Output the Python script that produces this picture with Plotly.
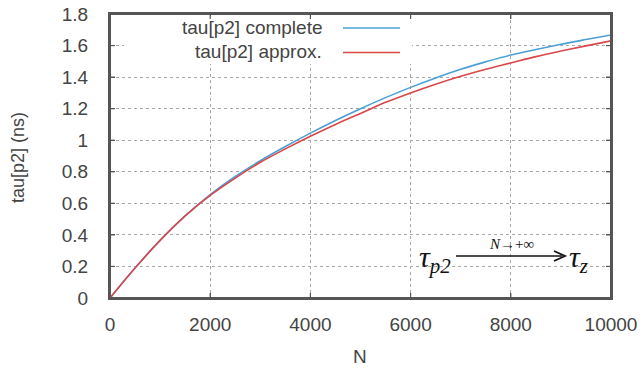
import plotly.graph_objects as go

# ---- data ----
N = [0, 500, 1000, 1500, 2000, 2500, 3000, 3500, 4000, 4500, 5000,
     5500, 6000, 6500, 7000, 7500, 8000, 8500, 9000, 9500, 10000]
tau_complete = [0, 0.19, 0.365, 0.52, 0.655, 0.77, 0.87, 0.96, 1.045, 1.125, 1.20,
                1.27, 1.335, 1.395, 1.45, 1.497, 1.54, 1.575, 1.608, 1.638, 1.667]
tau_approx = [0, 0.19, 0.365, 0.52, 0.65, 0.76, 0.86, 0.945, 1.025, 1.10, 1.17,
              1.24, 1.30, 1.355, 1.405, 1.45, 1.49, 1.53, 1.565, 1.598, 1.63]
series_names = ["tau[p2] complete", "tau[p2] approx."]
x_ticks = [0, 2000, 4000, 6000, 8000, 10000]
x_ticktext = ["0", "2000", "4000", "6000", "8000", "10000"]
y_ticks = [0, 0.2, 0.4, 0.6, 0.8, 1, 1.2, 1.4, 1.6, 1.8]

BLUE = "#4b9fd5"
RED = "#d9474a"
FRAME = "#555555"
TXT = "#444444"
FONT = "Liberation Sans"

W, H = 641, 372
L, R, T, B = 110, 30, 14, 74
PW, PH = W - L - R, H - T - B


def px(x):
    return (x - L) / PW


def py(y):
    return (H - B - y) / PH


fig = go.Figure()
fig.add_trace(go.Scatter(x=N, y=tau_complete, mode="lines", name=series_names[0],
                         line=dict(color=BLUE, width=1.6), line_shape="spline"))
fig.add_trace(go.Scatter(x=N, y=tau_approx, mode="lines", name=series_names[1],
                         line=dict(color=RED, width=1.6), line_shape="spline"))

axis_common = dict(showline=True, linecolor=FRAME, linewidth=2, mirror="allticks",
                   ticks="inside", ticklen=5, tickcolor=FRAME, tickwidth=1,
                   showgrid=True, gridcolor="#a8a8a8", griddash="dot", gridwidth=1,
                   zeroline=False, automargin=False,
                   tickfont=dict(family=FONT, size=19, color=TXT))

fig.update_xaxes(range=[0, 10000], tickvals=x_ticks, ticktext=x_ticktext,
                 ticklabelstandoff=8, **axis_common)
fig.update_yaxes(range=[0, 1.8], tickvals=y_ticks, ticklabelstandoff=16, **axis_common)

shapes = [
    # legend background box (hides grid)
    dict(type="rect", xref="paper", yref="paper", x0=px(124), x1=px(412),
         y0=py(64), y1=py(16), fillcolor="white", line=dict(width=0), layer="above"),
    dict(type="line", xref="paper", yref="paper", x0=px(343), x1=px(400),
         y0=py(28), y1=py(28), line=dict(color=BLUE, width=1.6)),
    dict(type="line", xref="paper", yref="paper", x0=px(343), x1=px(400),
         y0=py(52.5), y1=py(52.5), line=dict(color=RED, width=1.6)),
    # arrow of the limit notation
    dict(type="line", xref="paper", yref="paper", x0=px(456), x1=px(562),
         y0=py(256), y1=py(256), line=dict(color="#111111", width=1.5)),
    dict(type="path", xref="paper", yref="paper",
         path="M %f,%f L %f,%f L %f,%f" % (px(554), py(251), px(565), py(256),
                                           px(554), py(261)),
         line=dict(color="#111111", width=1.8)),
]

# inner tick marks on all four sides (gnuplot style)
tick_x = 5 / PW
tick_y = 5 / PH
for xv in x_ticks:
    shapes.append(dict(type="line", xref="x", yref="paper", x0=xv, x1=xv,
                       y0=0, y1=tick_y, line=dict(color=FRAME, width=1.2), layer="above"))
    shapes.append(dict(type="line", xref="x", yref="paper", x0=xv, x1=xv,
                       y0=1 - tick_y, y1=1, line=dict(color=FRAME, width=1.2), layer="above"))
for yv in y_ticks:
    shapes.append(dict(type="line", xref="paper", yref="y", x0=0, x1=tick_x,
                       y0=yv, y1=yv, line=dict(color=FRAME, width=1.2), layer="above"))
    shapes.append(dict(type="line", xref="paper", yref="y", x0=1 - tick_x, x1=1,
                       y0=yv, y1=yv, line=dict(color=FRAME, width=1.2), layer="above"))

# plot frame
shapes.append(dict(type="rect", xref="paper", yref="paper", x0=0, x1=1, y0=0, y1=1,
                   line=dict(color=FRAME, width=2), fillcolor="rgba(0,0,0,0)",
                   layer="above"))

ann = [
    dict(text=series_names[0], xref="paper", yref="paper", x=px(324), y=py(27),
         xanchor="right", yanchor="middle", showarrow=False,
         font=dict(family=FONT, size=19, color=TXT)),
    dict(text=series_names[1], xref="paper", yref="paper", x=px(324), y=py(51),
         xanchor="right", yanchor="middle", showarrow=False,
         font=dict(family=FONT, size=19, color=TXT)),
    dict(text="tau[p2] (ns)", xref="paper", yref="paper", x=px(18), y=py(158),
         xanchor="center", yanchor="middle", textangle=-90, showarrow=False,
         font=dict(family=FONT, size=18, color=TXT)),
    dict(text="N", xref="paper", yref="paper", x=px(360), y=py(356),
         xanchor="center", yanchor="middle", showarrow=False,
         font=dict(family=FONT, size=19, color=TXT)),
    # math annotation
    dict(text="<i>τ</i><sub><i>p2</i></sub>", xref="paper", yref="paper",
         x=px(453), y=py(259), xanchor="right", yanchor="middle", showarrow=False,
         font=dict(family="Liberation Serif", size=30, color="#111111")),
    dict(text="<i>τ</i><sub><i>z</i></sub>", xref="paper", yref="paper",
         x=px(567), y=py(259), xanchor="left", yanchor="middle", showarrow=False,
         font=dict(family="Liberation Serif", size=30, color="#111111")),
    dict(text="<i>N</i>→+∞", xref="paper", yref="paper", x=px(511), y=py(244),
         xanchor="center", yanchor="middle", showarrow=False,
         font=dict(family="Liberation Serif", size=15, color="#111111")),
]

fig.update_layout(width=W, height=H, margin=dict(l=L, r=R, t=T, b=B),
                  plot_bgcolor="white", paper_bgcolor="white", showlegend=False,
                  shapes=shapes, annotations=ann)

fig.write_html("out.html")
